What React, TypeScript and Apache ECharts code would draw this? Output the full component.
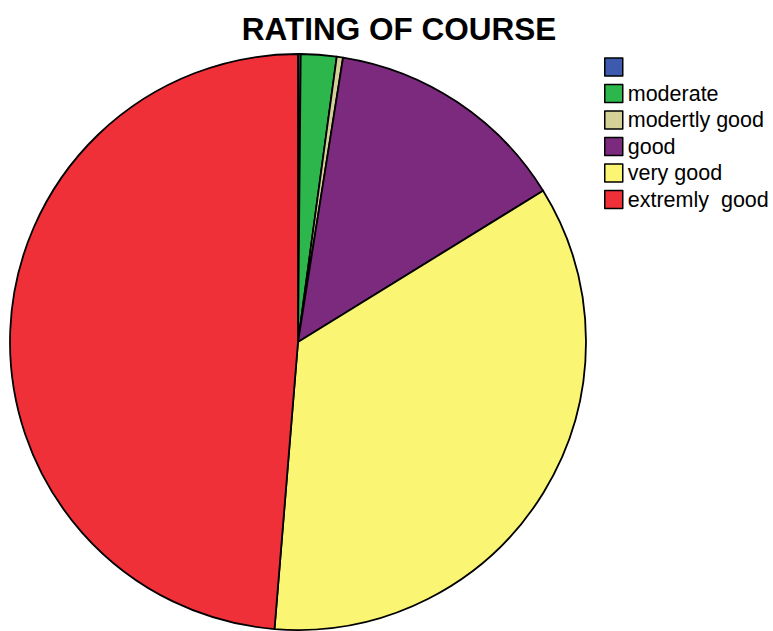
import React, { useEffect, useRef } from "react";
import * as echarts from "echarts";

const categories = [" ", "moderate", "modertly good", "good", "very good", "extremly  good"];
const values = [0.15, 2.0, 0.35, 13.7, 35.1, 48.7];
const colors = ["#3D5AAE", "#2DB64B", "#D5CF98", "#7B2A7E", "#FBF574", "#EF3038"];
const title = "RATING OF COURSE";

export default function App() {
  const ref = useRef<HTMLDivElement>(null);
  useEffect(() => {
    if (!ref.current) return;
    const chart = echarts.init(ref.current, null, { renderer: "svg" });
    chart.setOption({
      animation: false,
      backgroundColor: "#ffffff",
      title: {
        text: title,
        left: 394,
        top: 8,
        textAlign: "center",
        textStyle: {
          fontFamily: "Liberation Sans",
          fontWeight: "bold",
          fontSize: 31.5,
          color: "#000000",
        },
      },
      legend: {
        orient: "vertical",
        left: 604,
        top: 56,
        padding: 0,
        itemWidth: 18,
        itemHeight: 18,
        itemGap: 4.5,
        icon: "rect",
        selectedMode: false,
        itemStyle: { borderColor: "#000000", borderWidth: 1.5 },
        textStyle: {
          fontFamily: "Liberation Sans",
          fontSize: 21.5,
          color: "#000000",
        },
        data: categories,
      },
      series: [
        {
          type: "pie",
          center: [298, 342],
          radius: 288,
          startAngle: 90,
          clockwise: true,
          label: { show: false },
          labelLine: { show: false },
          emphasis: { disabled: true },
          itemStyle: { borderColor: "#000000", borderWidth: 1.8 },
          data: categories.map((name, i) => ({
            name,
            value: values[i],
            itemStyle: { color: colors[i] },
          })),
        },
      ],
    });
    return () => chart.dispose();
  }, []);
  return (
    <div
      ref={ref}
      style={{ position: "fixed", left: 0, top: 0, width: 773, height: 631 }}
    />
  );
}
